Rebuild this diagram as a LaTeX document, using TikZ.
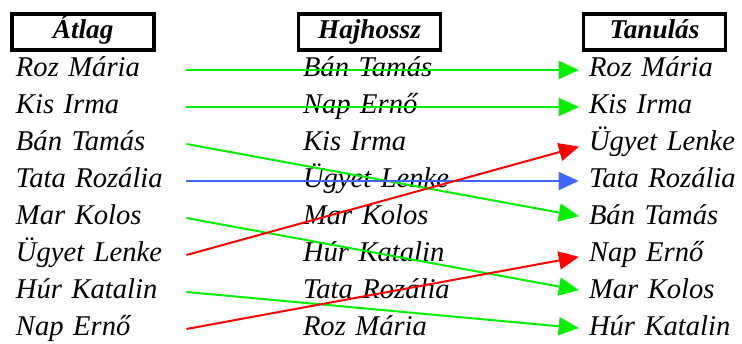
\documentclass[tikz,border=0pt]{standalone}
\usepackage{fontspec}
\setmainfont{Liberation Serif}
\usetikzlibrary{arrows.meta,positioning}
\definecolor{lime}{HTML}{00F000}
\definecolor{sky}{HTML}{3F66FF}
\definecolor{scarlet}{HTML}{FF0000}

\begin{document}
\begin{tikzpicture}[
 font=\fontsize{14.3}{17}\selectfont\itshape,
 node distance=18.5pt, on grid,
 head/.style={rectangle,draw=black,line width=1.75pt,minimum width=71pt,minimum height=18pt,inner sep=0pt,text height=0.66em,text depth=0pt,font=\fontsize{13.6}{16}\selectfont\bfseries\itshape},
 person/.style={inner sep=0pt,text width=85pt,align=left,text height=0.6em,text depth=0pt},
 link/.style={-{Triangle[length=10pt,width=9pt]},line width=1pt,shorten >=5pt}
]
\useasboundingbox (0,0) rectangle (371pt,-171.5pt);
% column headers
\node[head] (ha) at (41.6pt,-16pt) {Átlag};
\node[head] (hh) at (184.75pt,-16pt) {Hajhossz};
\node[head] (ht) at (327.25pt,-16pt) {Tanulás};
% Átlag
\node[person] (a1) at (50.5pt,-35pt) {Roz Mária};
\node[person,below=of a1] (a2) {Kis Irma};
\node[person,below=of a2] (a3) {Bán Tamás};
\node[person,below=of a3] (a4) {Tata Rozália};
\node[person,below=of a4] (a5) {Mar Kolos};
\node[person,below=of a5] (a6) {Ügyet Lenke};
\node[person,below=of a6] (a7) {Húr Katalin};
\node[person,below=of a7] (a8) {Nap Ernő};
% Hajhossz
\node[person] (h1) at (194pt,-35pt) {Bán Tamás};
\node[person,below=of h1] (h2) {Nap Ernő};
\node[person,below=of h2] (h3) {Kis Irma};
\node[person,below=of h3] (h4) {Ügyet Lenke};
\node[person,below=of h4] (h5) {Mar Kolos};
\node[person,below=of h5] (h6) {Húr Katalin};
\node[person,below=of h6] (h7) {Tata Rozália};
\node[person,below=of h7] (h8) {Roz Mária};
% Tanulás
\node[person] (t1) at (337pt,-35pt) {Roz Mária};
\node[person,below=of t1] (t2) {Kis Irma};
\node[person,below=of t2] (t3) {Ügyet Lenke};
\node[person,below=of t3] (t4) {Tata Rozália};
\node[person,below=of t4] (t5) {Bán Tamás};
\node[person,below=of t5] (t6) {Nap Ernő};
\node[person,below=of t6] (t7) {Mar Kolos};
\node[person,below=of t7] (t8) {Húr Katalin};
% rank changes
\draw[link,lime] (a1.east)--(t1.west);
\draw[link,lime] (a2.east)--(t2.west);
\draw[link,lime] (a3.east)--(t5.west);
\draw[link,sky] (a4.east)--(t4.west);
\draw[link,lime] (a5.east)--(t7.west);
\draw[link,scarlet] (a6.east)--(t3.west);
\draw[link,lime] (a7.east)--(t8.west);
\draw[link,scarlet] (a8.east)--(t6.west);
\end{tikzpicture}
\end{document}
